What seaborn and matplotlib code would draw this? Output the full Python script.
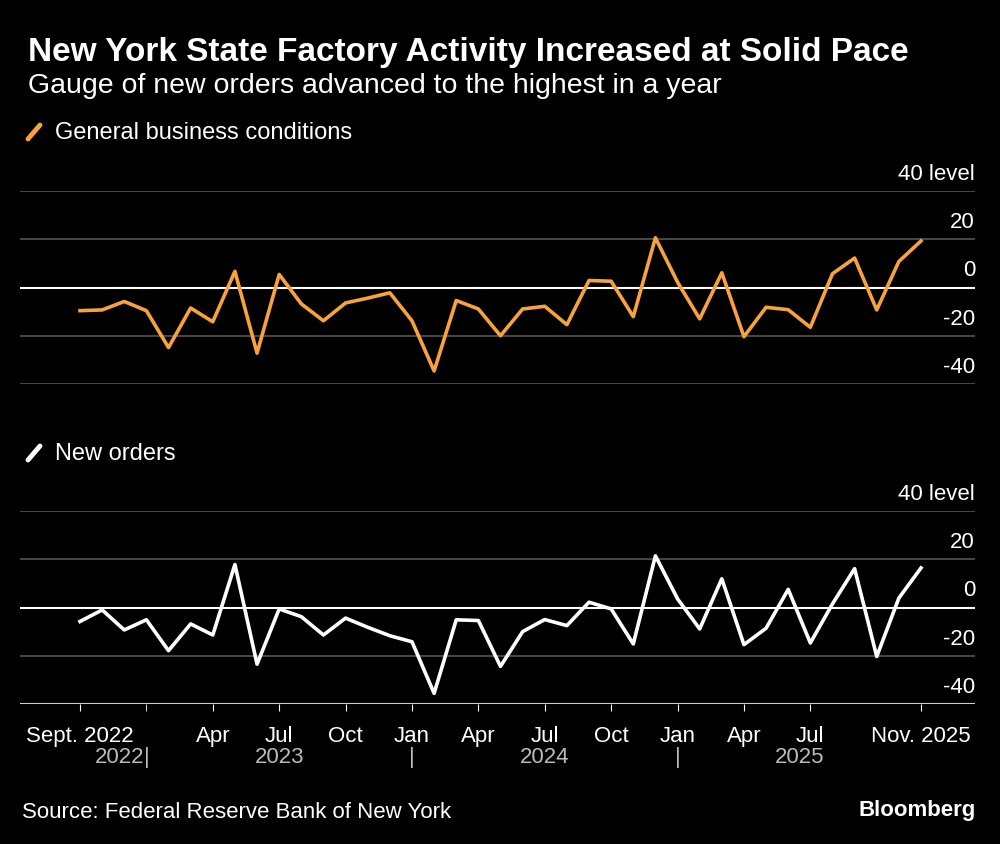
import matplotlib
matplotlib.use("Agg")
import matplotlib.pyplot as plt
import seaborn as sns
import numpy as np
import pandas as pd

months = pd.date_range("2022-09-01", "2025-11-01", freq="MS").strftime("%Y-%m").tolist()
general = [-9.6, -9.3, -5.8, -9.6, -24.9, -8.5, -14.2, 6.7, -27.2, 5.4, -6.8, -13.8,
           -6.4, -4.4, -2.2, -13.8, -34.6, -5.4, -8.9, -20.0, -8.9, -7.8, -15.4, 2.9,
           2.6, -12.1, 20.6, 2.2, -13.0, 6.1, -20.4, -8.2, -9.2, -16.5, 5.7, 12.2,
           -9.3, 10.8, 19.3]
new_orders = [-5.8, -1.0, -9.3, -5.1, -17.9, -6.8, -11.4, 17.8, -23.5, -0.6, -3.8, -11.4,
              -4.4, -8.2, -11.7, -14.2, -35.6, -5.1, -5.4, -24.4, -10.0, -5.0, -7.5, 2.2,
              -0.6, -15.1, 21.4, 3.6, -8.9, 11.9, -15.4, -8.6, 7.5, -14.7, 1.5, 16.1,
              -20.3, 3.9, 16.4]
tick_pos = [0, 6, 9, 12, 15, 18, 21, 24, 27, 30, 33, 38]
tick_labels = ["Sept. 2022", "Apr", "Jul", "Oct", "Jan", "Apr", "Jul", "Oct", "Jan", "Apr", "Jul", "Nov. 2025"]
year_pos = [1.8, 9, 21, 32.5]
year_labels = ["2022", "2023", "2024", "2025"]
sep_pos = [3, 15, 27]
y_ticks = [40, 20, 0, -20, -40]
y_labels = ["40 level", "20", "0", "-20", "-40"]

df = pd.DataFrame({"i": np.arange(len(months)), "general": general, "new": new_orders})

W, H = 1000, 845
fig = plt.figure(figsize=(10, 8.45), dpi=100, facecolor="black")
font = "Liberation Sans"
plt.rcParams["font.family"] = font
TS = 16

def make_ax(top_px, bot_px, col, color, bottom_axis):
    ax = fig.add_axes([20 / W, (H - bot_px) / H, 955 / W, (bot_px - top_px) / H])
    ax.set_facecolor("black")
    px = 22.13
    ax.set_xlim(-60 / px, 38 + 54 / px)
    ax.set_ylim(-40, 40)
    for v in y_ticks:
        if v == 0:
            ax.axhline(v, color="white", lw=1.5, zorder=1)
        elif v == -40 and bottom_axis:
            ax.axhline(v, color="#cccccc", lw=1.5, zorder=1)
        else:
            ax.axhline(v, color="#555555", lw=1.2, zorder=1)
    sns.lineplot(data=df, x="i", y=col, ax=ax, color=color, lw=2.6, zorder=3)
    for s in ax.spines.values():
        s.set_visible(False)
    ax.set_yticks([])
    ax.set_xlabel(""); ax.set_ylabel("")
    for v, l in zip(y_ticks, y_labels):
        ax.text(1.0, v + 3, l, transform=ax.get_yaxis_transform(), ha="right", va="bottom",
                color="white", fontsize=TS)
    if bottom_axis:
        ax.set_xticks(tick_pos)
        ax.set_xticklabels(tick_labels, color="white", fontsize=TS)
        ax.tick_params(axis="x", colors="white", length=5, pad=10, labelcolor="white")
        ax.set_xticks(sep_pos, minor=True)
        ax.tick_params(axis="x", which="minor", length=5, color="white")
        for p, l in zip(year_pos, year_labels):
            ax.text(p, -0.27, l, transform=ax.get_xaxis_transform(), ha="center", va="center",
                    color="#bbbbbb", fontsize=TS)
        for p in sep_pos:
            ax.text(p, -0.27, "|", transform=ax.get_xaxis_transform(), ha="center", va="center",
                    color="#bbbbbb", fontsize=TS)
    else:
        ax.set_xticks([])
    return ax

make_ax(192, 385, "general", "#f7a23b", False)
make_ax(512, 705, "new", "white", True)

fig.text(28 / W, 1 - 52 / H, "New York State Factory Activity Increased at Solid Pace",
         color="white", fontsize=24, fontweight="bold", va="center")
fig.text(28 / W, 1 - 86 / H, "Gauge of new orders advanced to the highest in a year",
         color="white", fontsize=20.5, va="center")
for ypx, lab, c in [(133, "General business conditions", "#f7a23b"), (454, "New orders", "white")]:
    fig.add_artist(plt.Line2D([28 / W, 40 / W], [1 - (ypx + 7) / H, 1 - (ypx - 7) / H],
                              color=c, lw=3.5, solid_capstyle="round"))
    fig.text(55 / W, 1 - ypx / H, lab, color="white", fontsize=17, va="center")
fig.text(22 / W, 1 - 813 / H, "Source: Federal Reserve Bank of New York", color="white",
         fontsize=16, va="center")
fig.text(976 / W, 1 - 811 / H, "Bloomberg", color="white", fontsize=16, fontweight="bold",
         va="center", ha="right")

fig.savefig("out.png", dpi=100, facecolor="black")
